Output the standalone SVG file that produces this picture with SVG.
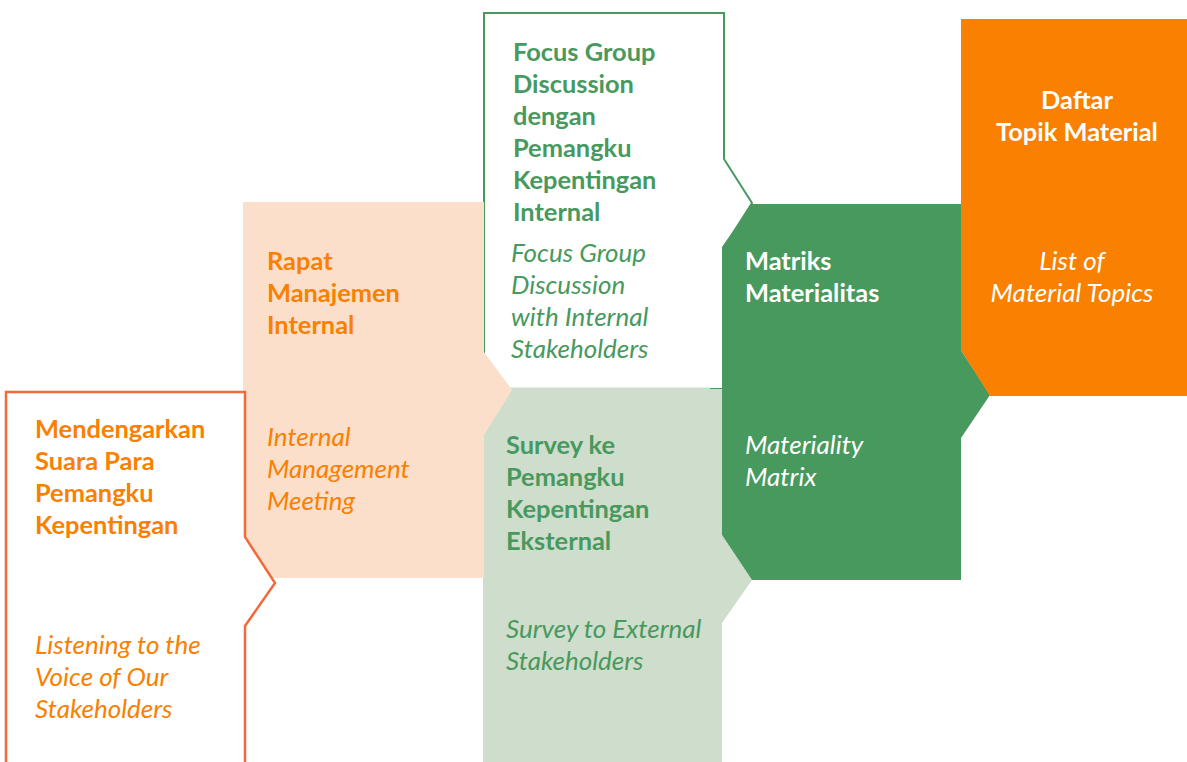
<svg xmlns="http://www.w3.org/2000/svg" width="1187" height="762" viewBox="0 0 1187 762">
<style>
  text { font-family: Lato, "Open Sans", "Liberation Sans", sans-serif; font-size: 24px; }
  .b { font-weight: 700; font-size: 25.4px; }
  .i { font-style: italic; font-size: 26px; }
  .or { fill: #F98000; }
  .gr { fill: #48995E; }
  .wh { fill: #FFFFFF; }
  .mid { text-anchor: middle; }
</style>
<rect width="1187" height="762" fill="#FFFFFF"/>
<g id="node-fgd">
  <polygon points="484,13 724,13 724,159 752,203 724,247 724,389 484,389" fill="#FFFFFF" stroke="#48995E" stroke-width="2"/>
  <text class="b gr"><tspan x="513" y="61">Focus Group</tspan><tspan x="513" y="93">Discussion</tspan><tspan x="513" y="125">dengan</tspan><tspan x="513" y="157">Pemangku</tspan><tspan x="513" y="189">Kepentingan</tspan><tspan x="513" y="221">Internal</tspan></text>
  <text class="i gr"><tspan x="511" y="262">Focus Group</tspan><tspan x="511" y="294">Discussion</tspan><tspan x="511" y="326">with Internal</tspan><tspan x="511" y="358">Stakeholders</tspan></text>
</g>
<g id="node-survey">
  <polygon points="483,387.5 710,387.5 710,389 722,389 722,535 752,580 722,623 722,762 483,762" fill="#CFDDCC"/>
  <text class="b gr"><tspan x="506" y="454">Survey ke</tspan><tspan x="506" y="486">Pemangku</tspan><tspan x="506" y="518">Kepentingan</tspan><tspan x="506" y="550">Eksternal</tspan></text>
  <text class="i gr"><tspan x="506" y="638">Survey to External</tspan><tspan x="506" y="670">Stakeholders</tspan></text>
</g>
<g id="node-rapat">
  <polygon points="243,202 484,202 484,352 512,390 484,435 484,578 243,578" fill="#FBDFCB"/>
  <text class="b or"><tspan x="267" y="270">Rapat</tspan><tspan x="267" y="302">Manajemen</tspan><tspan x="267" y="334">Internal</tspan></text>
  <text class="i or"><tspan x="267" y="446">Internal</tspan><tspan x="267" y="478">Management</tspan><tspan x="267" y="510">Meeting</tspan></text>
</g>
<g id="node-listen">
  <polygon points="6,392 245,392 245,537 275,583 245,626 245,775 6,775" fill="#FFFFFF" stroke="#F26A3B" stroke-width="2.5"/>
  <text class="b or"><tspan x="35" y="438">Mendengarkan</tspan><tspan x="35" y="470">Suara Para</tspan><tspan x="35" y="502">Pemangku</tspan><tspan x="35" y="534">Kepentingan</tspan></text>
  <text class="i or"><tspan x="35" y="654">Listening to the</tspan><tspan x="35" y="686">Voice of Our</tspan><tspan x="35" y="718">Stakeholders</tspan></text>
</g>
<g id="node-matriks">
  <polygon points="752,204 961,204 961,350 990,395 961,438 961,580 752,580 722,535 722,247" fill="#48995E"/>
  <text class="b wh"><tspan x="745" y="270">Matriks</tspan><tspan x="745" y="302">Materialitas</tspan></text>
  <text class="i wh"><tspan x="745" y="454">Materiality</tspan><tspan x="745" y="486">Matrix</tspan></text>
</g>
<g id="node-daftar">
  <polygon points="961,19 1187,19 1187,396 990,396 961,350" fill="#F98000"/>
  <text class="b wh mid"><tspan x="1077" y="109">Daftar</tspan><tspan x="1077" y="141">Topik Material</tspan></text>
  <text class="i wh mid"><tspan x="1072" y="270">List of</tspan><tspan x="1072" y="302">Material Topics</tspan></text>
</g>
<g id="connectors"></g>
</svg>
